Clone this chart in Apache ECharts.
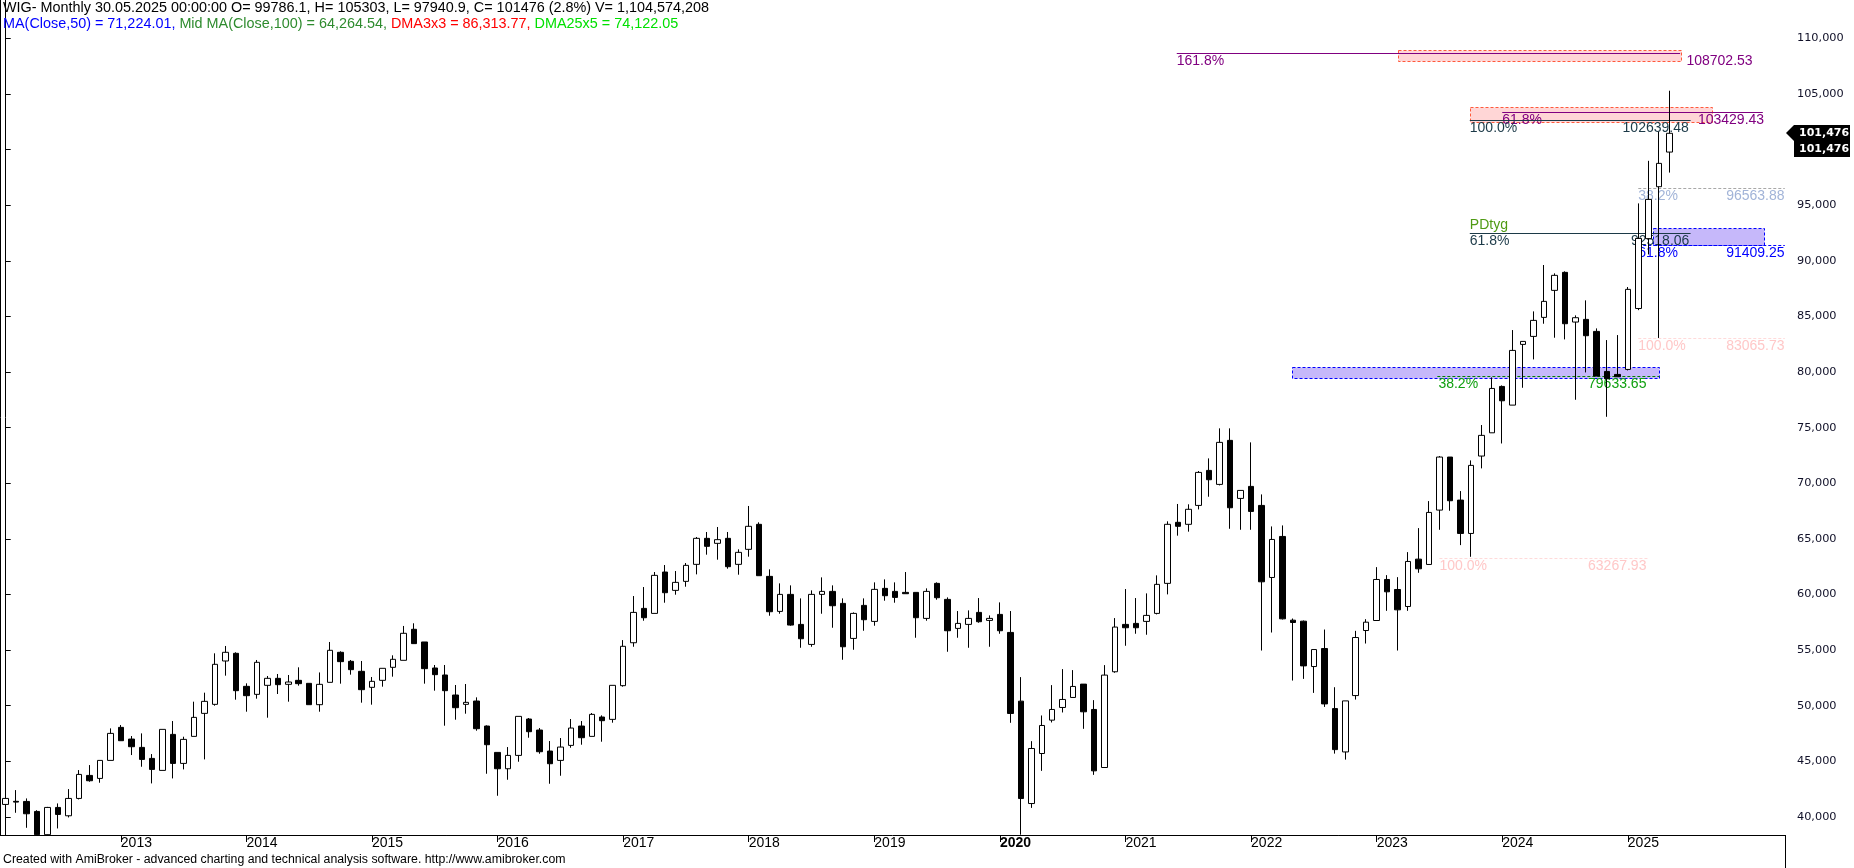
<!DOCTYPE html>
<html><head><meta charset="utf-8">
<script src="https://cdn.jsdelivr.net/npm/echarts@6/dist/echarts.min.js"></script>
<style>html,body{margin:0;padding:0;background:#fff;overflow:hidden}#c{width:1854px;height:868px}</style>
</head><body><div id="c"></div>
<script>
// ---------- DATA ----------
const startYear = 2012, startMonth = 2; // first candle: Feb 2012
const opens = [
41120,41400,41390,40490,38400,40850,40100,41660,43730,43460,45080,
48050,47000,46250,45260,44180,47420,44810,47240,49310,50120,54020,54710,
51740,51020,51830,52460,51920,52280,52010,50090,52100,54800,53990,53090,
51650,52280,53450,54080,56870,55730,53390,52760,50960,50120,50420,48170,
45800,44330,45530,48800,47810,45920,45080,46430,48170,47240,48980,48770,
51800,55660,58750,58300,62020,60370,61180,62710,65050,64600,65050,62710,
64060,66310,61630,58480,60010,57310,55510,60010,60280,59200,56050,59020,
57580,60550,60280,60190,60190,57850,61000,59560,56950,57310,58390,57670,
58210,56590,50410,41200,45700,48700,49840,50740,51940,49660,44440,53050,
57310,57400,57580,58300,61000,66490,66310,68010,71160,69900,73860,68640,
69720,68010,61530,65220,57690,57600,53520,55140,49740,45840,50910,56760,
57660,61350,60450,58920,63180,62700,67590,72360,68490,65490,72450,74540,
78710,77030,82490,83210,84920,87350,88970,84500,84740,83660,80060,79790,
80240,85720,92000,96670,99786.1];
const highs = [
42410,42410,41660,40600,40900,41210,42500,44210,44660,45080,47960,
48260,47270,47510,45650,47870,48620,47210,50360,51170,54710,55370,54800,
52010,54110,52670,52850,52760,53450,52010,52990,55730,54890,54110,54020,
52580,53360,54530,57170,57410,55730,53660,53660,51860,51950,50750,48230,
45800,46280,49040,48890,47990,46820,47090,48800,48620,49340,49130,51830,
55900,59860,60670,62020,62650,62110,62830,65170,65620,66070,65620,64060,
67960,66490,62260,61000,60820,59650,60370,61540,60820,59650,58390,59650,
61090,61360,61090,62020,60190,60550,61090,59740,58510,58570,59680,58120,
59290,58510,52570,46810,49120,51850,53290,53200,51940,50500,53650,57880,
60490,59680,60100,61720,66580,68140,68110,71100,72240,74940,74940,69360,
73680,69000,66120,66210,57840,57660,55050,56850,51660,50430,56730,57780,
62460,61740,61560,63810,65970,68400,72450,72360,69300,72060,75240,79520,
78800,83780,82760,85460,89630,88880,89060,85100,86450,83930,82880,83330,
87650,95170,99000,101620,105303];
const lows = [
41000,40370,39020,38380,38380,38960,39950,41570,43160,43070,45080,
46850,45560,44510,43010,44180,43460,44270,47240,45170,50000,52700,50540,
49460,50630,48920,51050,50360,51800,50090,49460,52100,51980,52790,50270,
50090,51710,52610,54080,55580,51980,51350,48200,48740,49280,47750,43880,
41900,43340,44960,47120,45680,42980,43700,46220,46490,47240,46760,48470,
51710,55300,57640,58300,59260,59980,60700,61810,63580,63130,62320,61780,
63400,61690,58090,58270,57190,55210,55300,58270,57010,54130,55030,56740,
57190,59440,59260,60070,56110,57640,59530,54850,56110,55210,57460,55300,
56470,48460,38400,40810,44140,48490,49390,50740,47920,43780,44440,52960,
55390,56470,56380,58210,60010,65290,65650,67650,68790,69810,65910,65820,
65820,54960,56580,57750,52260,52410,51150,49890,45690,45150,50550,55590,
57660,58530,54960,58530,61950,62700,65820,67530,64440,63390,71340,74540,
73580,77030,78590,81140,84350,83090,82940,77510,79970,79640,75980,79580,
80150,85570,90580,83070,97940.9];
const closes = [
41660,41330,40280,38400,40850,40220,41660,43820,43250,45080,47510,
46850,46310,45170,44270,47870,44810,46970,48950,50390,53720,54800,51350,
50900,53900,52460,51890,52130,51980,50090,51920,54980,53960,53240,51440,
52190,53360,54170,56510,55580,53330,52790,51350,49820,50300,47930,46490,
44330,45530,49040,47660,45860,44780,46280,47990,47120,49220,48650,51830,
55340,58390,57910,61720,60160,61090,62620,65050,64330,64930,62500,63790,
66130,61690,58450,60010,57250,56020,60010,60280,58990,55300,58300,57730,
60460,59890,59740,60070,57910,60280,59710,56740,57400,57850,57550,57850,
56740,49300,41650,46150,48220,49660,50560,51730,49450,44140,52750,57070,
57010,57010,58120,60910,66310,66130,67660,70980,70320,73680,67800,69360,
67470,61140,64950,57810,57480,53580,55050,50160,46050,50430,56130,57510,
61350,60240,58620,62970,62310,67380,72360,68430,65490,71610,74310,78530,
77420,81950,82760,84650,86360,88700,84350,84890,83270,79640,79400,79580,
87440,92020,95530,98770,101476];
const yTicks = [40000,45000,50000,55000,60000,65000,70000,75000,80000,85000,90000,95000,100000,105000,110000];
const yearLabels = ['2013','2014','2015','2016','2017','2018','2019','2020','2021','2022','2023','2024','2025'];
const lastClose = 101476;
const fibValues = [108702.53, 103429.43, 102639.48, 96563.88, 92518.06, 91409.25, 83065.73, 79633.65, 63267.93];
const fibPercents = ['161.8%','61.8%','100.0%','38.2%','61.8%','61.8%','100.0%','38.2%','100.0%'];
const zoneTops = [108968, 103840, 92944, 80486];
const zoneBottoms = [107978, 102536, 91409.25, 79533];
const headerLine1 = 'WIG- Monthly 30.05.2025 00:00:00 O= 99786.1, H= 105303, L= 97940.9, C= 101476 (2.8%) V= 1,104,574,208';
const headerParts = ['MA(Close,50) = 71,224.01, ', 'Mid MA(Close,100) = 64,264.54, ', 'DMA3x3 = 86,313.77, ', 'DMA25x5 = 74,122.05'];
const footer = 'Created with AmiBroker - advanced charting and technical analysis software. http://www.amibroker.com';

// ---------- DERIVED ----------
const months = opens.map((_, i) => {
  const m = startMonth - 1 + i;
  return (startYear + Math.floor(m / 12)) + '-' + String(m % 12 + 1).padStart(2, '0');
});
const yearIdx = yearLabels.map(y => months.indexOf(y + '-01'));
const candleData = opens.map((o, i) => [i, o, closes[i], lows[i], highs[i]]);

// ---------- LAYOUT / STYLE (not data) ----------
const fibLayout = [
  {x0:111.9, x1:160.0, line:'#800080', dash:null, txt:'#800080', px:111.9, vx:160.6},
  {x0:143.0, x1:167.9, line:'#800080', dash:null, txt:'#800080', px:143.0, vx:161.7},
  {x0:139.9, x1:161.0, line:'#1c3a48', dash:null, txt:'#1c3a48', px:139.9, vx:154.5},
  {x0:156.0, x1:170.0, line:'#a8a8a8', dash:[3,2], txt:'#a2b4d8', px:156.0, vx:164.4},
  {x0:139.9, x1:161.0, line:'#1c3a48', dash:null, txt:'#1c3a48', px:139.9, vx:155.3},
  {x0:156.0, x1:170.0, line:'#0000ff', dash:[3,2], txt:'#0000ff', px:156.0, vx:164.4},
  {x0:156.0, x1:170.0, line:'#ffdada', dash:[3,2], txt:'#ffc8c8', px:156.0, vx:164.4},
  {x0:136.8, x1:158.0, line:'#008000', dash:[3,2], txt:'#10a010', px:136.9, vx:151.2},
  {x0:137.0, x1:157.0, line:'#ffdada', dash:[3,2], txt:'#ffc8c8', px:137.0, vx:151.2}
];
const zoneLayout = [
  {x0:133.0, x1:160.0, fill:'#ffd6d6', stroke:'#ff5a3c'},
  {x0:139.9, x1:163.0, fill:'#ffd6d6', stroke:'#ff5a3c'},
  {x0:157.4, x1:168.0, fill:'#c6b8fa', stroke:'#0000ff'},
  {x0:122.9, x1:158.0, fill:'#c6b8fa', stroke:'#0000ff'}
];

const chart = echarts.init(document.getElementById('c'), null, {renderer: 'canvas'});
const FONT = '"Liberation Sans", Arial, sans-serif';
const HF = '14.4px ' + FONT;
chart.setOption({
  animation: false,
  backgroundColor: '#fff',
  grid: {left: 0, right: 69, top: 0, bottom: 33, containLabel: false},
  xAxis: {
    type: 'value', min: -0.545, max: 170.02,
    axisLine: {show: true, onZero: false, lineStyle: {color: '#000', width: 1}},
    axisTick: {show: true, length: 7, customValues: yearIdx, lineStyle: {color: '#000'}},
    axisLabel: {
      customValues: yearIdx, align: 'left', margin: 1,
      fontFamily: FONT, fontSize: 14, color: '#000',
      formatter: v => { const y = months[Math.round(v)].slice(0, 4); return y === '2020' ? '{b|' + y + '}' : y; },
      rich: {b: {fontWeight: 'bold', fontFamily: FONT, fontSize: 14, color: '#000'}}
    },
    splitLine: {show: false}
  },
  yAxis: {
    type: 'value', position: 'right', min: 38371, max: 113462,
    axisLine: {show: true, lineStyle: {color: '#000', width: 1}},
    axisTick: {show: true, length: 5, customValues: yTicks, lineStyle: {color: '#000'}},
    axisLabel: {
      customValues: yTicks, margin: 12, fontFamily: '"DejaVu Sans", Verdana, sans-serif',
      fontSize: 11.3, color: '#101028', formatter: v => v.toLocaleString('en-US')
    },
    splitLine: {show: false}
  },
  series: [{
    type: 'candlestick', z: 3,
    dimensions: ['t', 'open', 'close', 'lowest', 'highest'],
    encode: {x: 0, y: [1, 2, 3, 4]},
    data: candleData,
    barWidth: 6,
    itemStyle: {color: '#fff', color0: '#000', borderColor: '#000', borderColor0: '#000', borderWidth: 1}
  }]
});

// ---------- annotations via the chart's own scales ----------
const P = (x, y) => chart.convertToPixel({gridIndex: 0}, [x, y]);
const crisp = v => Math.round(v) + 0.5;
const els = [];
zoneLayout.forEach((z, k) => {
  const a = P(z.x0, zoneTops[k]), b = P(z.x1, zoneBottoms[k]);
  els.push({type: 'rect', z: 1, shape: {x: crisp(a[0]), y: crisp(a[1]), width: Math.round(b[0] - a[0]), height: Math.round(b[1] - a[1])},
    style: {fill: z.fill, stroke: z.stroke, lineWidth: 1, lineDash: [3, 2]}});
});
fibLayout.forEach((f, k) => {
  const v = fibValues[k];
  const a = P(f.x0, v), b = P(f.x1, v);
  const y = crisp(a[1]);
  els.push({type: 'line', z: 2, shape: {x1: a[0], y1: y, x2: b[0], y2: y},
    style: {stroke: f.line, lineWidth: 1, lineDash: f.dash || null}});
  const tp = P(f.px, v), tv = P(f.vx, v);
  const ts = {font: '14px ' + FONT, align: 'left', verticalAlign: 'top', textAlign: 'left', textVerticalAlign: 'top', fill: f.txt};
  els.push({type: 'text', z: 2, style: Object.assign({text: fibPercents[k], x: tp[0], y: y + 1}, ts)});
  els.push({type: 'text', z: 2, style: Object.assign({text: v.toFixed(2), x: tv[0], y: y + 1}, ts)});
});
// PDtyg label above the 92518.06 line
{
  const p = P(139.9, fibValues[4]);
  els.push({type: 'text', z: 2, style: {text: 'PDtyg', x: p[0], y: p[1] - 1, font: '14px ' + FONT, fill: '#4f9a14',
    align: 'left', verticalAlign: 'bottom', textAlign: 'left', textVerticalAlign: 'bottom'}});
}
// frame lines
const br = P(170.02, 38371);
els.push({type: 'line', z: 5, shape: {x1: 0.5, y1: 0, x2: 0.5, y2: br[1]}, style: {stroke: '#000', lineWidth: 1}});
els.push({type: 'line', z: 5, shape: {x1: crisp(br[0]), y1: br[1], x2: crisp(br[0]), y2: 868}, style: {stroke: '#000', lineWidth: 1}});
// last price labels
{
  const p = P(170.02, lastClose);
  const ax = Math.round(p[0]) + 1, y = Math.round(p[1]);
  els.push({type: 'polygon', z: 10, shape: {points: [[ax, y], [ax + 8, y - 8], [ax + 64, y - 8], [ax + 64, y + 8], [ax + 8, y + 8]]}, style: {fill: '#000'}});
  els.push({type: 'rect', z: 10, shape: {x: ax + 8, y: y + 8, width: 56, height: 16}, style: {fill: '#000'}});
  const lbl = lastClose.toLocaleString('en-US');
  const st = {font: 'bold 11px "DejaVu Sans", Verdana, sans-serif', fill: '#fff', align: 'left', verticalAlign: 'middle', textAlign: 'left', textVerticalAlign: 'middle'};
  els.push({type: 'text', z: 11, style: Object.assign({text: lbl, x: ax + 13, y: y}, st)});
  els.push({type: 'text', z: 11, style: Object.assign({text: lbl, x: ax + 13, y: y + 16}, st)});
}
// header + footer
els.push({type: 'text', z: 20, style: {text: headerLine1, x: 3, y: 1, font: HF, fill: '#000', align: 'left', verticalAlign: 'top', textAlign: 'left', textVerticalAlign: 'top'}});
els.push({type: 'text', z: 20, style: {
  text: '{a|' + headerParts[0] + '}{b|' + headerParts[1] + '}{c|' + headerParts[2] + '}{d|' + headerParts[3] + '}',
  x: 3, y: 17, font: HF, align: 'left', verticalAlign: 'top', textAlign: 'left', textVerticalAlign: 'top',
  rich: {a: {fill: '#0000ff', color: '#0000ff', font: HF}, b: {fill: '#2e8b2e', color: '#2e8b2e', font: HF},
         c: {fill: '#ff0000', color: '#ff0000', font: HF}, d: {fill: '#00e000', color: '#00e000', font: HF}}
}});
els.push({type: 'text', z: 20, style: {text: footer, x: 3, y: 860, font: '12.3px ' + FONT, fill: '#000', align: 'left', verticalAlign: 'middle', textAlign: 'left', textVerticalAlign: 'middle'}});
chart.setOption({graphic: {elements: els}});
</script>
</body></html>
